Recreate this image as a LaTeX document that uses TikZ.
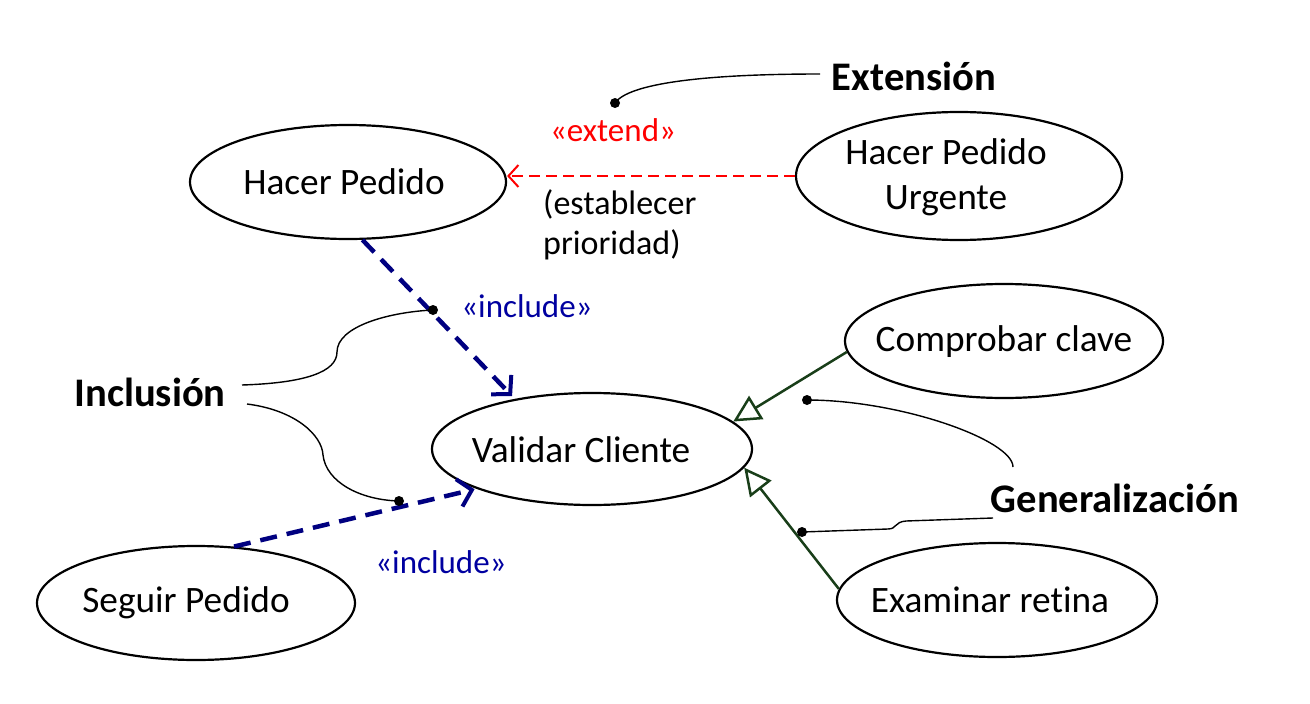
\documentclass[tikz,border=0pt]{standalone}
\usepackage{fontspec}
\setmainfont{Carlito}[Ligatures=NoCommon]
\usetikzlibrary{shapes.geometric,arrows.meta}
\definecolor{incl}{RGB}{0,0,128}
\definecolor{incltext}{RGB}{0,0,160}
\definecolor{genc}{RGB}{25,62,25}
\begin{document}
\begin{tikzpicture}[x=1pt,y=-1pt,
  uc/.style={ellipse,draw,line width=2.2pt,inner sep=0pt},
  txt/.style={inner sep=0pt,font=\fontsize{37.3}{45}\selectfont,align=center},
  btxt/.style={inner sep=0pt,font=\fontsize{40.6}{48}\selectfont\bfseries},
  stereo/.style={inner sep=0pt,font=\fontsize{33}{40}\selectfont},
  inclarrow/.style={draw=incl,line width=4.5pt,dash pattern=on 17pt off 10pt,
    -{Straight Barb[length=13pt,width=28pt,line width=4pt]}},
  extarrow/.style={draw=red,line width=2pt,dash pattern=on 11pt off 6pt,
    -{Straight Barb[length=10pt,width=22pt,line width=2pt]}},
  genarrow/.style={draw=genc,line width=2.5pt,
    -{Triangle[open,length=27pt,width=27pt,line width=2.5pt]}},
  lead/.style={line width=1.4pt},
  dot/.style={circle,fill=black,inner sep=0pt,minimum size=10pt}]
\useasboundingbox (0,0) rectangle (1310,704);

% use cases
\node[uc,minimum width=316pt,minimum height=114pt] (hp) at (348,182) {};
\node[txt] (hpt) at (344,182) {Hacer Pedido};
\node[uc,minimum width=326pt,minimum height=128pt] (hu) at (959,176) {};
\node[txt] (hut) at (946,177) {Hacer Pedido\\Urgente};
\node[uc,minimum width=320pt,minimum height=112pt] (vc) at (592,449) {};
\node[txt] (vct) at (581,450) {Validar Cliente};
\node[uc,minimum width=318pt,minimum height=114pt] (cc) at (1004,341) {};
\node[txt] (cct) at (1004,342) {Comprobar clave};
\node[uc,minimum width=320pt,minimum height=114pt] (er) at (997,600) {};
\node[txt] (ert) at (990,600) {Examinar retina};
\node[uc,minimum width=318pt,minimum height=114pt] (sp) at (196,603) {};
\node[txt] (spt) at (186,603) {Seguir Pedido};

% relations
\draw[extarrow] (hu.west) -- (hu.west -| hp.east);
\draw[inclarrow,shorten >=4pt] (hp.-76) -- (vc.147);
\draw[inclarrow,shorten >=2pt] (sp.56) -- (vc.199);
\draw[genarrow] (cc.184) -- (vc.11);
\draw[genarrow] (er.176) -- (vc.-7);

% labels
\node[stereo,text=red] (extl) at (613,130) {«extend»};
\node[stereo,anchor=west,align=left,font=\fontsize{34}{40}\selectfont] (prio) at (543,225) {(establecer\\prioridad)};
\node[stereo,text=incltext] (inc1) at (527,306) {«include»};
\node[stereo,text=incltext] (inc2) at (441,562) {«include»};

\node[btxt] (ext) at (914,76) {Extensión};
\node[btxt] (inc) at (150,392) {Inclusión};
\node[btxt] (gen) at (1115,498) {Generalización};

% leader lines
\node[dot] (d1) at (615,103) {};
\node[dot] (d2) at (433,310) {};
\node[dot] (d3) at (399,501) {};
\node[dot] (d4) at (807,400) {};
\node[dot] (d5) at (802,532) {};
\coordinate (e1) at (820,74);
\coordinate (i1) at (242,385);
\coordinate (i2) at (247,404);
\coordinate (g1) at (1013,467);
\coordinate (g2) at (993,518);

\draw[lead] (e1) .. controls (700,74) and (628,84) .. (d1.center);
\draw[lead] (i1) .. controls (305,383) and (337,372) .. (337,352)
  .. controls (337,326) and (390,312) .. (d2.center);
\draw[lead] (i2) .. controls (295,410) and (322,435) .. (323,455)
  .. controls (326,482) and (360,500) .. (d3.center);
\draw[lead] (d4.center) .. controls (900,400) and (1013,440) .. (g1);
\draw[lead] (d5.center) -- (888,529) .. controls (897,529) and (894,522) .. (906,521) -- (g2);
\end{tikzpicture}
\end{document}
